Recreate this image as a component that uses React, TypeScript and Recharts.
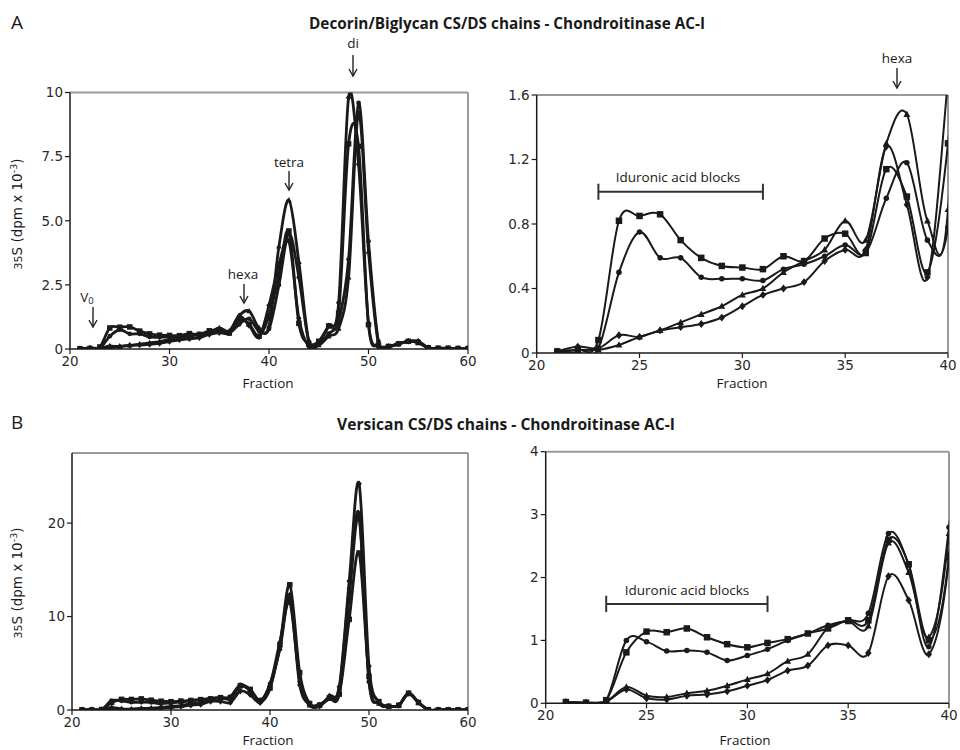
// Chondroitinase AC-I Fraktionsprofile — vier Panels (A: Decorin/Biglycan, B: Versican)
// Rechte Panels zeigen dieselben Daten, nur auf Fraktion 20-40 gezoomt

import React from 'react'
import { LineChart, Line, XAxis, YAxis, ReferenceLine } from 'recharts'

const fractions = [
  21, 22, 23, 24, 25, 26, 27, 28, 29, 30, 31, 32, 33, 34, 35, 36, 37, 38, 39, 40,
  41, 42, 43, 44, 45, 46, 47, 48, 49, 50, 51, 52, 53, 54, 55, 56, 57, 58, 59, 60,
]

// Panel A (dpm x 10^-3)
const aSquare = [
  0.01, 0.02, 0.08, 0.82, 0.85, 0.86, 0.70, 0.59, 0.54, 0.53, 0.52, 0.60, 0.57, 0.71, 0.74, 0.62, 1.14, 0.97, 0.50, 1.3,
  2.9, 4.6, 1.0, 0.2, 0.3, 0.9, 1.4, 8.0, 7.9, 0.95, 0.15, 0.1, 0.2, 0.3, 0.25, 0.05, 0.03, 0.03, 0.02, 0.02,
]
const aCircle = [
  0.01, 0.0, 0.03, 0.50, 0.75, 0.59, 0.59, 0.47, 0.46, 0.46, 0.45, 0.52, 0.55, 0.60, 0.67, 0.62, 0.96, 1.18, 0.70, 0.78,
  2.5, 4.5, 2.8, 0.3, 0.2, 0.6, 1.1, 3.5, 9.6, 4.2, 0.3, 0.1, 0.2, 0.3, 0.3, 0.05, 0.03, 0.02, 0.02, 0.02,
]
const aTriangle = [
  0.01, 0.02, 0.02, 0.05, 0.10, 0.14, 0.19, 0.24, 0.29, 0.36, 0.40, 0.50, 0.57, 0.64, 0.82, 0.70, 1.30, 1.48, 0.82, 0.89,
  4.0, 5.8, 3.4, 0.3, 0.15, 0.5, 0.8, 2.8, 9.2, 3.8, 0.2, 0.1, 0.2, 0.3, 0.25, 0.04, 0.02, 0.02, 0.02, 0.02,
]
const aDiamond = [
  0.01, 0.04, 0.03, 0.11, 0.10, 0.14, 0.16, 0.18, 0.22, 0.29, 0.36, 0.40, 0.44, 0.57, 0.64, 0.64, 1.28, 0.92, 0.47, 1.7,
  3.3, 4.2, 1.2, 0.1, 0.25, 0.9, 1.8, 9.8, 7.2, 1.0, 0.1, 0.1, 0.2, 0.3, 0.3, 0.05, 0.03, 0.02, 0.02, 0.02,
]

// Panel B (dpm x 10^-3)
const bSquare = [
  0.02, 0.01, 0.05, 0.81, 1.14, 1.13, 1.19, 1.05, 0.94, 0.89, 0.96, 1.02, 1.11, 1.19, 1.32, 1.32, 2.6, 2.21, 1.0, 2.35,
  7.0, 13.4, 4.0, 0.7, 0.5, 1.3, 1.7, 9.7, 16.8, 3.6, 0.9, 0.4, 0.5, 1.8, 0.8, 0.03, 0.02, 0.02, 0.02, 0.02,
]
const bCircle = [
  0.02, 0.01, 0.05, 1.0, 0.98, 0.83, 0.84, 0.81, 0.68, 0.76, 0.86, 1.0, 1.11, 1.24, 1.32, 1.43, 2.7, 2.2, 0.9, 2.8,
  6.5, 12.0, 2.7, 0.6, 0.6, 1.4, 2.2, 13.0, 21.0, 3.0, 0.8, 0.4, 0.5, 1.8, 0.8, 0.02, 0.02, 0.02, 0.02, 0.02,
]
const bTriangle = [
  0.02, 0.01, 0.03, 0.26, 0.12, 0.10, 0.16, 0.20, 0.28, 0.38, 0.47, 0.67, 0.78, 1.2, 1.3, 1.23, 2.55, 2.08, 1.05, 2.7,
  7.3, 11.5, 3.2, 0.5, 0.5, 1.2, 1.8, 12.0, 20.5, 3.2, 0.7, 0.4, 0.5, 1.7, 0.8, 0.02, 0.02, 0.02, 0.02, 0.02,
]
const bDiamond = [
  0.02, 0.01, 0.03, 0.22, 0.08, 0.06, 0.12, 0.14, 0.19, 0.28, 0.37, 0.52, 0.60, 0.92, 0.92, 0.80, 2.02, 1.64, 0.78, 2.3,
  6.8, 12.3, 3.5, 0.6, 0.4, 1.5, 2.5, 13.8, 24.2, 4.7, 0.8, 0.4, 0.5, 1.8, 0.8, 0.02, 0.02, 0.02, 0.02, 0.02,
]

const fullTicks = [20, 30, 40, 50, 60]
const zoomTicks = [20, 25, 30, 35, 40]
const aLeftTicks = [0, 2.5, 5, 7.5, 10]
const aRightTicks = [0, 0.4, 0.8, 1.2, 1.6]
const bLeftTicks = [0, 10, 20]
const bRightTicks = [0, 1, 2, 3, 4]

const SHAPES = ['square', 'circle', 'triangle', 'diamond']
const INK = '#1a1a1a'
const TICK_FONT = { fill: '#2a2a2a', fontSize: 13.5, fontFamily: 'DejaVu Sans' }
const LABEL_FONT = 'Open Sans'

function buildRows(sq: number[], ci: number[], tr: number[], di: number[]) {
  return fractions.map((f, i) => ({
    fraction: f,
    square: sq[i],
    circle: ci[i],
    triangle: tr[i],
    diamond: di[i],
  }))
}

const rowsA = buildRows(aSquare, aCircle, aTriangle, aDiamond)
const rowsB = buildRows(bSquare, bCircle, bTriangle, bDiamond)

// Excel-artige Glaettung (Catmull-Rom als Bezier)
function excelCurve(context: any) {
  let pts: number[][] = []
  return {
    areaStart() {},
    areaEnd() {},
    lineStart() { pts = [] },
    point(x: number, y: number) { pts.push([+x, +y]) },
    lineEnd() {
      const n = pts.length
      if (!n) return
      context.moveTo(pts[0][0], pts[0][1])
      for (let i = 0; i < n - 1; i++) {
        const p0 = pts[i > 0 ? i - 1 : i]
        const p1 = pts[i]
        const p2 = pts[i + 1]
        const p3 = pts[i + 2 < n ? i + 2 : i + 1]
        context.bezierCurveTo(
          p1[0] + (p2[0] - p0[0]) / 6, p1[1] + (p2[1] - p0[1]) / 6,
          p2[0] - (p3[0] - p1[0]) / 6, p2[1] - (p3[1] - p1[1]) / 6,
          p2[0], p2[1],
        )
      }
    },
  }
}

function Marker({ cx, cy, shape, size }: any) {
  if (cx == null || cy == null) return null
  const s = size / 2
  if (shape === 'square') return <rect x={cx - s} y={cy - s} width={size} height={size} fill={INK} />
  if (shape === 'circle') return <circle cx={cx} cy={cy} r={s * 0.85} fill={INK} />
  if (shape === 'triangle') {
    return <polygon points={`${cx},${cy - s * 1.15} ${cx + s * 1.05},${cy + s * 0.8} ${cx - s * 1.05},${cy + s * 0.8}`} fill={INK} />
  }
  return <polygon points={`${cx},${cy - s * 1.2} ${cx + s},${cy} ${cx},${cy + s * 1.2} ${cx - s},${cy}`} fill={INK} />
}

interface PanelProps {
  rows: any[]
  left: number
  top: number
  height: number
  marginTop: number
  marginRight: number
  yAxisWidth: number
  xAxisHeight: number
  xDomain: number[]
  xTicks: number[]
  yDomain: number[]
  yTicks: number[]
  yFormat: (v: number) => string
  lineWidth: number
  markerSize: number
  children?: React.ReactNode
}

function Panel(p: PanelProps) {
  return (
    <div style={{ position: 'absolute', left: p.left, top: p.top }}>
      <LineChart
        width={480}
        height={p.height}
        data={p.rows}
        margin={{ top: p.marginTop, right: p.marginRight, bottom: 0, left: 0 }}
      >
        <XAxis
          type="number"
          dataKey="fraction"
          domain={p.xDomain}
          ticks={p.xTicks}
          interval={0}
          allowDataOverflow
          height={p.xAxisHeight}
          tickSize={5}
          tick={TICK_FONT}
          axisLine={{ stroke: INK, strokeWidth: 1.5 }}
          tickLine={{ stroke: INK, strokeWidth: 1.2 }}
        />
        <YAxis
          domain={p.yDomain}
          ticks={p.yTicks}
          interval={0}
          allowDataOverflow
          width={p.yAxisWidth}
          tickSize={5}
          tick={TICK_FONT}
          tickFormatter={p.yFormat}
          axisLine={{ stroke: INK, strokeWidth: 1.5 }}
          tickLine={{ stroke: INK, strokeWidth: 1.2 }}
        />
        <ReferenceLine y={p.yDomain[1]} stroke="#9a9a9a" strokeWidth={2} />
        <ReferenceLine x={p.xDomain[1]} stroke="#9a9a9a" strokeWidth={2} />
        {p.children}
        {SHAPES.map((shape) => (
          <Line
            key={shape}
            dataKey={shape}
            type={excelCurve as any}
            stroke={INK}
            strokeWidth={p.lineWidth}
            isAnimationActive={false}
            activeDot={false}
            dot={(d: any) => (
              <Marker key={`${shape}-${d.index}`} cx={d.cx} cy={d.cy} shape={shape} size={p.markerSize} />
            )}
          />
        ))}
      </LineChart>
    </div>
  )
}

// Iduronat-Klammer als Segmente in Datenkoordinaten
function bracket(y: number, cap: number) {
  return [
    <ReferenceLine key="h" segment={[{ x: 23, y }, { x: 31, y }]} stroke="#333" strokeWidth={2} />,
    <ReferenceLine key="l" segment={[{ x: 23, y: y - cap }, { x: 23, y: y + cap }]} stroke="#333" strokeWidth={2} />,
    <ReferenceLine key="r" segment={[{ x: 31, y: y - cap }, { x: 31, y: y + cap }]} stroke="#333" strokeWidth={2} />,
  ]
}

const fmtOneDecimal = (v: number) => (v === 0 ? '0' : v === 10 ? '10' : v.toFixed(1))
const fmtInt = (v: number) => String(v)

function Arrow({ x, y1, y2 }: { x: number; y1: number; y2: number }) {
  return (
    <g stroke="#222" strokeWidth={1.4} fill="none">
      <line x1={x} y1={y1} x2={x} y2={y2} />
      <path d={`M ${x - 4} ${y2 - 7} L ${x} ${y2} L ${x + 4} ${y2 - 7}`} />
    </g>
  )
}

function Text({ x, y, children, size = 13.5, weight = 400, anchor = 'middle', family = LABEL_FONT }: any) {
  return (
    <text x={x} y={y} fontSize={size} fontWeight={weight} textAnchor={anchor} fontFamily={family} fill="#1a1a1a">
      {children}
    </text>
  )
}

function YLabel({ x, y }: { x: number; y: number }) {
  return (
    <text
      transform={`translate(${x},${y}) rotate(-90)`}
      textAnchor="middle"
      fontSize={13.5}
      fontFamily="DejaVu Sans"
      fill="#1a1a1a"
    >
      <tspan fontSize={11}>35</tspan>
      <tspan>S (dpm x 10</tspan>
      <tspan fontSize={9.5} dy={-5}>-3</tspan>
      <tspan dy={5}>)</tspan>
    </text>
  )
}

export default function App() {
  return (
    <div style={{ position: 'absolute', left: 0, top: 0, width: 960, height: 750, background: '#fff' }}>
      <Panel
        rows={rowsA} left={0} top={0} height={380}
        marginTop={92.5} marginRight={12} yAxisWidth={70} xAxisHeight={31}
        xDomain={[20, 60]} xTicks={fullTicks} yDomain={[0, 10]} yTicks={aLeftTicks}
        yFormat={fmtOneDecimal} lineWidth={2.8} markerSize={5.5}
      />
      <Panel
        rows={rowsA} left={480} top={0} height={380}
        marginTop={95} marginRight={12} yAxisWidth={56.7} xAxisHeight={27}
        xDomain={[20, 40]} xTicks={zoomTicks} yDomain={[0, 1.6]} yTicks={aRightTicks}
        yFormat={fmtOneDecimal} lineWidth={2} markerSize={6.5}
      >
        {bracket(1.0, 0.05)}
      </Panel>
      <Panel
        rows={rowsB} left={0} top={390} height={360}
        marginTop={63} marginRight={12} yAxisWidth={72} xAxisHeight={40}
        xDomain={[20, 60]} xTicks={fullTicks} yDomain={[0, 27.5]} yTicks={bLeftTicks}
        yFormat={fmtInt} lineWidth={2.8} markerSize={5.5}
      />
      <Panel
        rows={rowsB} left={480} top={390} height={360}
        marginTop={61.7} marginRight={11} yAxisWidth={65.7} xAxisHeight={46.7}
        xDomain={[20, 40]} xTicks={zoomTicks} yDomain={[0, 4]} yTicks={bRightTicks}
        yFormat={fmtInt} lineWidth={2} markerSize={6.5}
      >
        {bracket(1.58, 0.13)}
      </Panel>

      <svg width={960} height={750} style={{ position: 'absolute', left: 0, top: 0, pointerEvents: 'none' }}>
        <Text x={11} y={29} size={19} anchor="start">A</Text>
        <Text x={11} y={429} size={19} anchor="start">B</Text>
        <Text x={507} y={29} size={15.3} weight={700}>Decorin/Biglycan CS/DS chains - Chondroitinase AC-I</Text>
        <Text x={506} y={430} size={15.6} weight={700}>Versican CS/DS chains - Chondroitinase AC-I</Text>

        <Text x={353} y={48}>di</Text>
        <Arrow x={353} y1={55} y2={76} />
        <Text x={289} y={167}>tetra</Text>
        <Arrow x={289} y1={171} y2={190} />
        <Text x={243} y={279}>hexa</Text>
        <Arrow x={244} y1={284} y2={303} />
        <text x={87} y={302} fontSize={13.5} fontFamily={LABEL_FONT} textAnchor="middle" fill="#1a1a1a">
          V<tspan fontSize={9.5} dy={2}>0</tspan>
        </text>
        <Arrow x={93} y1={307} y2={327} />
        <Text x={897} y={63}>hexa</Text>
        <Arrow x={897} y1={68} y2={88} />

        <Text x={678} y={182}>Iduronic acid blocks</Text>
        <Text x={687} y={595}>Iduronic acid blocks</Text>

        <Text x={268} y={388}>Fraction</Text>
        <Text x={742} y={388}>Fraction</Text>
        <Text x={268} y={745}>Fraction</Text>
        <Text x={745} y={745}>Fraction</Text>

        <YLabel x={22} y={214} />
        <YLabel x={22} y={583} />
      </svg>
    </div>
  )
}
